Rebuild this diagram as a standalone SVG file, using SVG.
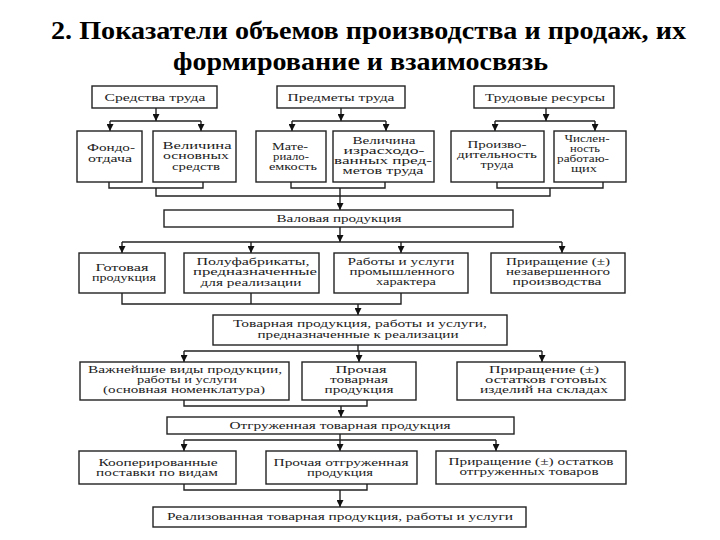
<svg xmlns="http://www.w3.org/2000/svg" width="720" height="540" viewBox="0 0 720 540">
<style>
.bg{fill:#fff}
.box{fill:#fff;stroke:#222;stroke-width:1.4}
.t{font-family:'Liberation Serif','Times New Roman',Tinos,'DejaVu Serif','Noto Serif',serif;font-size:10.5px;fill:#222;text-anchor:middle}
.title{font-family:'Liberation Serif','Times New Roman',Tinos,'DejaVu Serif','Noto Serif',serif;font-size:25px;font-weight:bold;fill:#000}
.c{fill:none;stroke:#222;stroke-width:1.4}
</style>
<defs>
<marker id="a" markerUnits="userSpaceOnUse" markerWidth="8" markerHeight="7" viewBox="0 0 8 7" refX="7" refY="3.5" orient="auto">
<path d="M0,0 L7,3.5 L0,7 Z" fill="#111"/>
</marker>
</defs>
<rect class="bg" width="720" height="540"/>
<g id="title">
<text class="title" x="51" y="39" textLength="635" lengthAdjust="spacingAndGlyphs">2. Показатели объемов производства и продаж, их</text>
<text class="title" x="173" y="70" textLength="375" lengthAdjust="spacingAndGlyphs">формирование и взаимосвязь</text>
</g>
<g id="connectors">
<path class="c" d="M156,108 V121" marker-end="url(#a)"/>
<path class="c" d="M110,121 H201"/>
<path class="c" d="M110,121 V131" marker-end="url(#a)"/>
<path class="c" d="M201,121 V131" marker-end="url(#a)"/>
<path class="c" d="M341,108 V121" marker-end="url(#a)"/>
<path class="c" d="M292,121 H386"/>
<path class="c" d="M292,121 V131" marker-end="url(#a)"/>
<path class="c" d="M386,121 V131" marker-end="url(#a)"/>
<path class="c" d="M546,108 V121" marker-end="url(#a)"/>
<path class="c" d="M495,121 H595"/>
<path class="c" d="M495,121 V131" marker-end="url(#a)"/>
<path class="c" d="M595,121 V131" marker-end="url(#a)"/>
<path class="c" d="M109,182 V188 H203 V182"/>
<path class="c" d="M291,182 V188 H385 V182"/>
<path class="c" d="M497,182 V188 H603 V182"/>
<path class="c" d="M156,188 V196 H550 V188"/>
<path class="c" d="M340,188 V210" marker-end="url(#a)"/>
<path class="c" d="M340,227 V242" marker-end="url(#a)"/>
<path class="c" d="M122,242 H562"/>
<path class="c" d="M122,242 V253" marker-end="url(#a)"/>
<path class="c" d="M251,242 V253" marker-end="url(#a)"/>
<path class="c" d="M401,242 V253" marker-end="url(#a)"/>
<path class="c" d="M562,242 V253" marker-end="url(#a)"/>
<path class="c" d="M122,293 V304 H401 V293"/>
<path class="c" d="M251,293 V304"/>
<path class="c" d="M358,304 V315" marker-end="url(#a)"/>
<path class="c" d="M358,345 V351"/>
<path class="c" d="M184,351 H542"/>
<path class="c" d="M184,351 V362" marker-end="url(#a)"/>
<path class="c" d="M359,351 V362" marker-end="url(#a)"/>
<path class="c" d="M542,351 V362" marker-end="url(#a)"/>
<path class="c" d="M184,400 V406 H367 V400"/>
<path class="c" d="M341,406 V417" marker-end="url(#a)"/>
<path class="c" d="M340,434 V440"/>
<path class="c" d="M184,440 H496"/>
<path class="c" d="M184,440 V451" marker-end="url(#a)"/>
<path class="c" d="M340,440 V451" marker-end="url(#a)"/>
<path class="c" d="M496,440 V451" marker-end="url(#a)"/>
<path class="c" d="M184,484 V490 H367 V484"/>
<path class="c" d="M340,490 V507" marker-end="url(#a)"/>
</g>
<g id="n-sredstva">
<rect class="box" x="92" y="86" width="125" height="22"/>
<text class="t" x="155" y="101" textLength="101" lengthAdjust="spacingAndGlyphs">Средства труда</text>
</g>
<g id="n-predmety">
<rect class="box" x="277" y="86" width="128" height="22"/>
<text class="t" x="341" y="101" textLength="107" lengthAdjust="spacingAndGlyphs">Предметы труда</text>
</g>
<g id="n-trud">
<rect class="box" x="474" y="86" width="140" height="22"/>
<text class="t" x="545" y="101" textLength="120" lengthAdjust="spacingAndGlyphs">Трудовые ресурсы</text>
</g>
<g id="n-fondo">
<rect class="box" x="77" y="131" width="65" height="51"/>
<text class="t" x="111" y="151" textLength="48" lengthAdjust="spacingAndGlyphs">Фондо-</text>
<text class="t" x="110" y="162" textLength="44" lengthAdjust="spacingAndGlyphs">отдача</text>
</g>
<g id="n-osnov">
<rect class="box" x="153" y="131" width="83" height="51"/>
<text class="t" x="197" y="149" textLength="69" lengthAdjust="spacingAndGlyphs">Величина</text>
<text class="t" x="196" y="159" textLength="66" lengthAdjust="spacingAndGlyphs">основных</text>
<text class="t" x="196" y="170" textLength="48" lengthAdjust="spacingAndGlyphs">средств</text>
</g>
<g id="n-material">
<rect class="box" x="256" y="131" width="70" height="51"/>
<text class="t" x="290" y="150" textLength="36" lengthAdjust="spacingAndGlyphs">Мате-</text>
<text class="t" x="291" y="160" textLength="36" lengthAdjust="spacingAndGlyphs">риало-</text>
<text class="t" x="293" y="170" textLength="48" lengthAdjust="spacingAndGlyphs">емкость</text>
</g>
<g id="n-izrash">
<rect class="box" x="333" y="131" width="101" height="51"/>
<text class="t" x="384" y="144" textLength="63" lengthAdjust="spacingAndGlyphs">Величина</text>
<text class="t" x="384" y="154" textLength="81" lengthAdjust="spacingAndGlyphs">израсходо-</text>
<text class="t" x="383" y="164" textLength="98" lengthAdjust="spacingAndGlyphs">ванных пред-</text>
<text class="t" x="383" y="174" textLength="81" lengthAdjust="spacingAndGlyphs">метов труда</text>
</g>
<g id="n-proizv">
<rect class="box" x="451" y="131" width="93" height="51"/>
<text class="t" x="497" y="148" textLength="59" lengthAdjust="spacingAndGlyphs">Произво-</text>
<text class="t" x="497" y="158" textLength="80" lengthAdjust="spacingAndGlyphs">дительность</text>
<text class="t" x="497" y="168" textLength="33" lengthAdjust="spacingAndGlyphs">труда</text>
</g>
<g id="n-chisl">
<rect class="box" x="554" y="131" width="72" height="51"/>
<text class="t" x="587" y="142" textLength="45" lengthAdjust="spacingAndGlyphs">Числен-</text>
<text class="t" x="585" y="152" textLength="30" lengthAdjust="spacingAndGlyphs">ность</text>
<text class="t" x="583" y="162" textLength="52" lengthAdjust="spacingAndGlyphs">работаю-</text>
<text class="t" x="584" y="172" textLength="26" lengthAdjust="spacingAndGlyphs">щих</text>
</g>
<g id="n-valovaya">
<rect class="box" x="164" y="210" width="349" height="17"/>
<text class="t" x="339" y="222" textLength="125" lengthAdjust="spacingAndGlyphs">Валовая продукция</text>
</g>
<g id="n-gotovaya">
<rect class="box" x="79" y="253" width="86" height="40"/>
<text class="t" x="122" y="271" textLength="53" lengthAdjust="spacingAndGlyphs">Готовая</text>
<text class="t" x="124" y="281" textLength="64" lengthAdjust="spacingAndGlyphs">продукция</text>
</g>
<g id="n-polufab">
<rect class="box" x="184" y="253" width="135" height="40"/>
<text class="t" x="253" y="265" textLength="113" lengthAdjust="spacingAndGlyphs">Полуфабрикаты,</text>
<text class="t" x="255" y="275" textLength="124" lengthAdjust="spacingAndGlyphs">предназначенные</text>
<text class="t" x="251" y="286" textLength="101" lengthAdjust="spacingAndGlyphs">для реализации</text>
</g>
<g id="n-raboty">
<rect class="box" x="334" y="253" width="134" height="40"/>
<text class="t" x="401" y="265" textLength="107" lengthAdjust="spacingAndGlyphs">Работы и услуги</text>
<text class="t" x="402" y="275" textLength="105" lengthAdjust="spacingAndGlyphs">промышленного</text>
<text class="t" x="406" y="285" textLength="60" lengthAdjust="spacingAndGlyphs">характера</text>
</g>
<g id="n-nezaversh">
<rect class="box" x="491" y="253" width="134" height="40"/>
<text class="t" x="558" y="265" textLength="104" lengthAdjust="spacingAndGlyphs">Приращение (±)</text>
<text class="t" x="558" y="275" textLength="104" lengthAdjust="spacingAndGlyphs">незавершенного</text>
<text class="t" x="557" y="285" textLength="89" lengthAdjust="spacingAndGlyphs">производства</text>
</g>
<g id="n-tovarnaya">
<rect class="box" x="213" y="315" width="294" height="30"/>
<text class="t" x="360" y="327" textLength="254" lengthAdjust="spacingAndGlyphs">Товарная продукция, работы и услуги,</text>
<text class="t" x="358" y="338" textLength="201" lengthAdjust="spacingAndGlyphs">предназначенные к реализации</text>
</g>
<g id="n-vazhn">
<rect class="box" x="80" y="362" width="209" height="38"/>
<text class="t" x="185" y="373" textLength="194" lengthAdjust="spacingAndGlyphs">Важнейшие виды продукции,</text>
<text class="t" x="187" y="383" textLength="100" lengthAdjust="spacingAndGlyphs">работы и услуги</text>
<text class="t" x="184" y="393" textLength="162" lengthAdjust="spacingAndGlyphs">(основная номенклатура)</text>
</g>
<g id="n-prochaya-tov">
<rect class="box" x="302" y="362" width="114" height="38"/>
<text class="t" x="361" y="373" textLength="51" lengthAdjust="spacingAndGlyphs">Прочая</text>
<text class="t" x="359" y="383" textLength="58" lengthAdjust="spacingAndGlyphs">товарная</text>
<text class="t" x="359" y="393" textLength="69" lengthAdjust="spacingAndGlyphs">продукция</text>
</g>
<g id="n-ostatki">
<rect class="box" x="457" y="362" width="168" height="38"/>
<text class="t" x="544" y="373" textLength="110" lengthAdjust="spacingAndGlyphs">Приращение (±)</text>
<text class="t" x="546" y="383" textLength="122" lengthAdjust="spacingAndGlyphs">остатков готовых</text>
<text class="t" x="544" y="393" textLength="128" lengthAdjust="spacingAndGlyphs">изделий на складах</text>
</g>
<g id="n-otgruzh">
<rect class="box" x="167" y="417" width="347" height="17"/>
<text class="t" x="340" y="429" textLength="221" lengthAdjust="spacingAndGlyphs">Отгруженная товарная продукция</text>
</g>
<g id="n-kooper">
<rect class="box" x="79" y="451" width="157" height="33"/>
<text class="t" x="158" y="466" textLength="119" lengthAdjust="spacingAndGlyphs">Кооперированные</text>
<text class="t" x="157" y="476" textLength="122" lengthAdjust="spacingAndGlyphs">поставки по видам</text>
</g>
<g id="n-prochaya-otgr">
<rect class="box" x="266" y="451" width="151" height="33"/>
<text class="t" x="341" y="466" textLength="135" lengthAdjust="spacingAndGlyphs">Прочая отгруженная</text>
<text class="t" x="340" y="476" textLength="66" lengthAdjust="spacingAndGlyphs">продукция</text>
</g>
<g id="n-ostatki-otgr">
<rect class="box" x="436" y="451" width="190" height="33"/>
<text class="t" x="531" y="465" textLength="165" lengthAdjust="spacingAndGlyphs">Приращение (±) остатков</text>
<text class="t" x="529" y="475" textLength="139" lengthAdjust="spacingAndGlyphs">отгруженных товаров</text>
</g>
<g id="n-realiz">
<rect class="box" x="153" y="507" width="373" height="20"/>
<text class="t" x="340" y="520" textLength="346" lengthAdjust="spacingAndGlyphs">Реализованная товарная продукция, работы и услуги</text>
</g>
</svg>
